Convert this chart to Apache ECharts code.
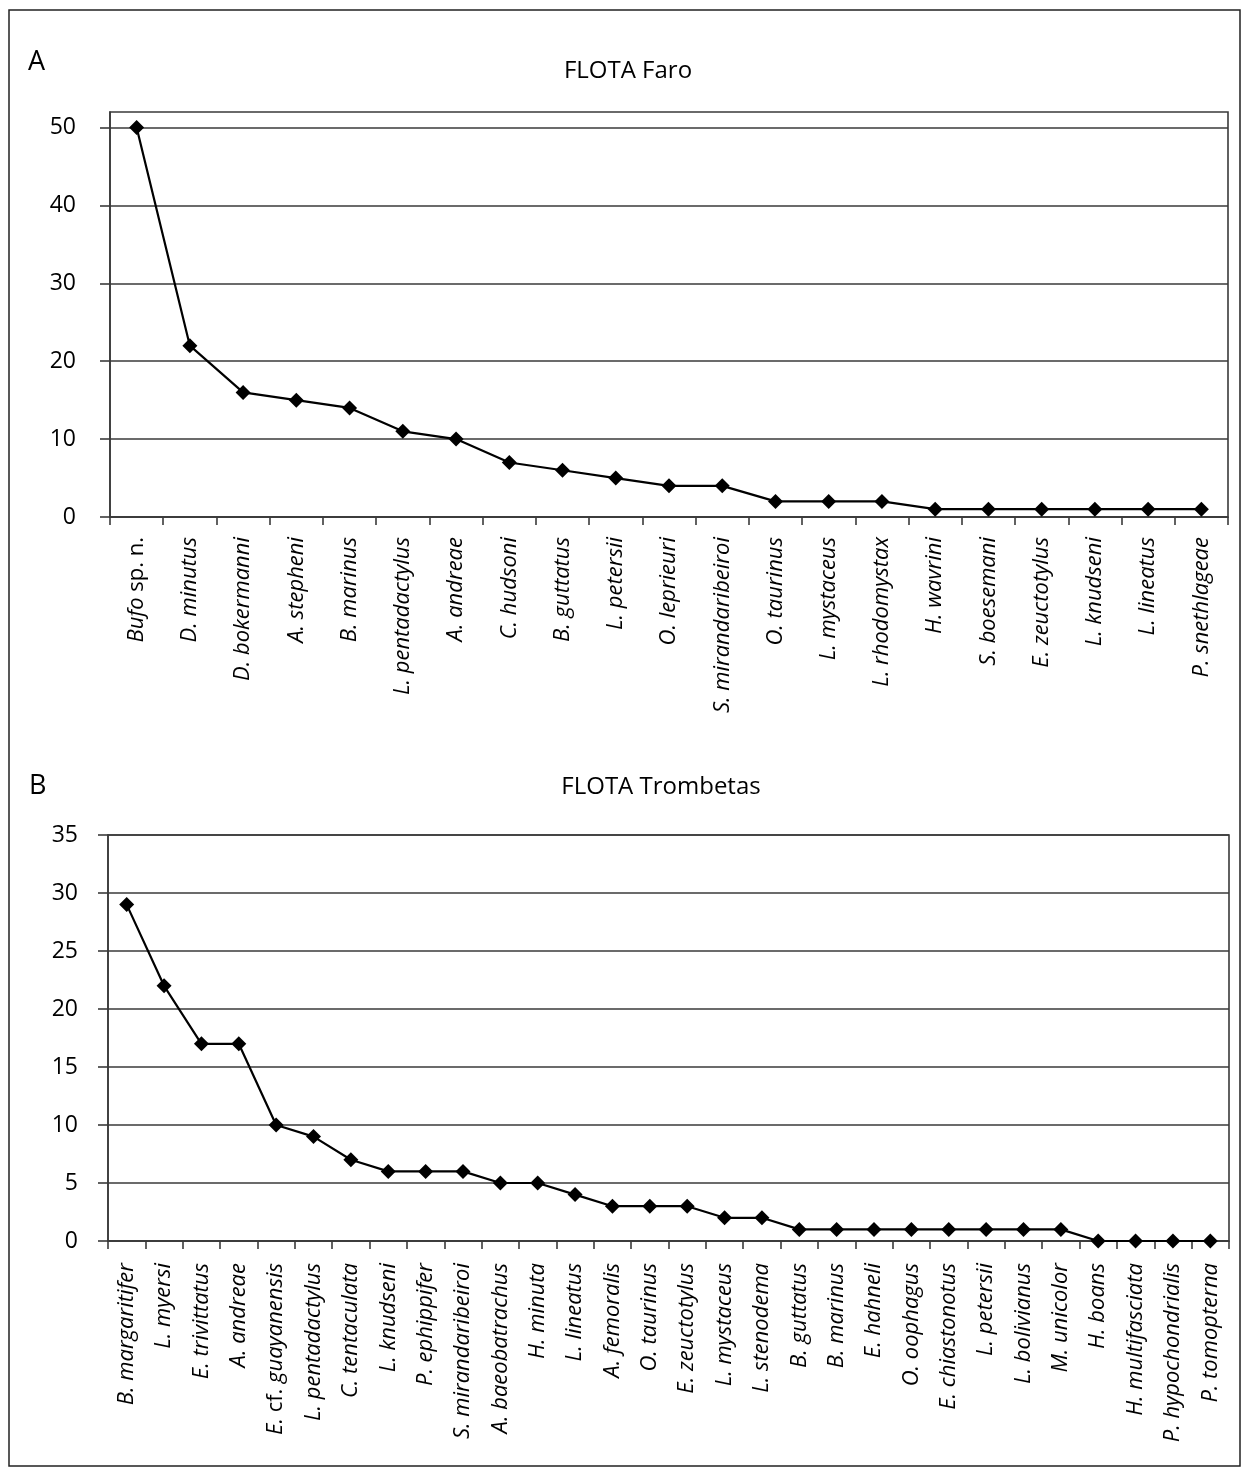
<!DOCTYPE html>
<html>
<head>
<meta charset="utf-8">
<script src="https://cdn.jsdelivr.net/npm/echarts@6/dist/echarts.min.js"></script>
<style>html,body{margin:0;padding:0;background:#fff}#c{width:1249px;height:1476px}</style>
</head>
<body>
<div id="c"></div>
<script>
const catA = ['Bufo sp. n.','D. minutus','D. bokermanni','A. stepheni','B. marinus','L. pentadactylus','A. andreae','C. hudsoni','B. guttatus','L. petersii','O. leprieuri','S. mirandaribeiroi','O. taurinus','L. mystaceus','L. rhodomystax','H. wavrini','S. boesemani','E. zeuctotylus','L. knudseni','L. lineatus','P. snethlageae'];
const valA = [50,22,16,15,14,11,10,7,6,5,4,4,2,2,2,1,1,1,1,1,1];
const catB = ['B. margaritifer','L. myersi','E. trivittatus','A. andreae','E. cf. guayanensis','L. pentadactylus','C. tentaculata','L. knudseni','P. ephippifer','S. mirandaribeiroi','A. baeobatrachus','H. minuta','L. lineatus','A. femoralis','O. taurinus','E. zeuctotylus','L. mystaceus','L. stenodema','B. guttatus','B. marinus','E. hahneli','O. oophagus','E. chiastonotus','L. petersii','L. bolivianus','M. unicolor','H. boans','H. multifasciata','P. hypochondrialis','P. tomopterna'];
const valB = [29,22,17,17,10,9,7,6,6,6,5,5,4,3,3,3,2,2,1,1,1,1,1,1,1,1,0,0,0,0];
const ticksA = [0,10,20,30,40,50];
const ticksB = [0,5,10,15,20,25,30,35];
const titleA = 'FLOTA Faro';
const titleB = 'FLOTA Trombetas';

const F = '"Open Sans", "DejaVu Sans", sans-serif';
const upright = {'sp.':1,'n.':1,'cf.':1};
function fmtCat(v){
  return v.split(' ').map(w => upright[w] ? '{n|' + w + '}' : '{i|' + w + '}').join('{i| }');
}
const gridCol = '#3a3a3a';
const txtCol = '#000';
const richLab = {
  i:{fontFamily:F, fontStyle:'italic', fontSize:22, color:txtCol},
  n:{fontFamily:F, fontStyle:'normal', fontSize:22, color:txtCol}
};
function xAx(idx, cats, margin){
  return {type:'category', gridIndex:idx, data:cats, boundaryGap:true,
    axisLine:{show:true, lineStyle:{color:gridCol, width:1.6}},
    axisTick:{show:true, length:8, lineStyle:{color:gridCol, width:1.6}},
    axisLabel:{interval:0, rotate:90, margin:margin, formatter:fmtCat, rich:richLab, fontFamily:F, fontSize:22, color:txtCol},
    splitLine:{show:false}};
}
function yAx(idx, max, interval, ticks, margin){
  return {type:'value', gridIndex:idx, min:0, max:max, interval:interval,
    axisLine:{show:true, lineStyle:{color:gridCol, width:1.6}},
    axisTick:{show:true, length:10, customValues:ticks, lineStyle:{color:gridCol, width:1.6}},
    axisLabel:{margin:margin, fontFamily:F, fontSize:23, color:txtCol,
      formatter: v => ticks.indexOf(v) >= 0 ? String(v) : ''},
    splitLine:{show:true, lineStyle:{color:gridCol, width:1.6}}};
}
const chart = echarts.init(document.getElementById('c'), null, {renderer:'canvas', width:1249, height:1476});
chart.setOption({
  animation:false,
  backgroundColor:'#fff',
  graphic:[
    {type:'rect', silent:true, shape:{x:9, y:10, width:1231, height:1456}, style:{fill:'none', stroke:'#222', lineWidth:1.5}},
    {type:'text', silent:true, x:28, y:62, style:{text:'A', font:'27px ' + F, fill:txtCol, verticalAlign:'middle', textVerticalAlign:'middle'}},
    {type:'text', silent:true, x:29, y:786, style:{text:'B', font:'27px ' + F, fill:txtCol, verticalAlign:'middle', textVerticalAlign:'middle'}},
    {type:'text', silent:true, x:628, y:71, style:{text:titleA, font:'24px ' + F, fill:txtCol, align:'center', textAlign:'center', verticalAlign:'middle', textVerticalAlign:'middle'}},
    {type:'text', silent:true, x:661, y:787, style:{text:titleB, font:'24px ' + F, fill:txtCol, align:'center', textAlign:'center', verticalAlign:'middle', textVerticalAlign:'middle'}}
  ],
  grid:[
    {left:110, top:112, width:1118, height:405, show:true, borderColor:gridCol, borderWidth:1.6, backgroundColor:'transparent'},
    {left:108, top:835, width:1121, height:406, show:true, borderColor:gridCol, borderWidth:1.6, backgroundColor:'transparent'}
  ],
  xAxis:[xAx(0, catA, 20), xAx(1, catB, 22)],
  yAxis:[yAx(0, 52, 10, ticksA, 34), yAx(1, 35, 5, ticksB, 30)],
  series:[
    {type:'line', xAxisIndex:0, yAxisIndex:0, data:valA, symbol:'diamond', symbolSize:15,
      lineStyle:{color:'#000', width:2.2}, itemStyle:{color:'#000'}},
    {type:'line', xAxisIndex:1, yAxisIndex:1, data:valB, symbol:'diamond', symbolSize:15,
      lineStyle:{color:'#000', width:2.2}, itemStyle:{color:'#000'}}
  ]
});
</script>
</body>
</html>
